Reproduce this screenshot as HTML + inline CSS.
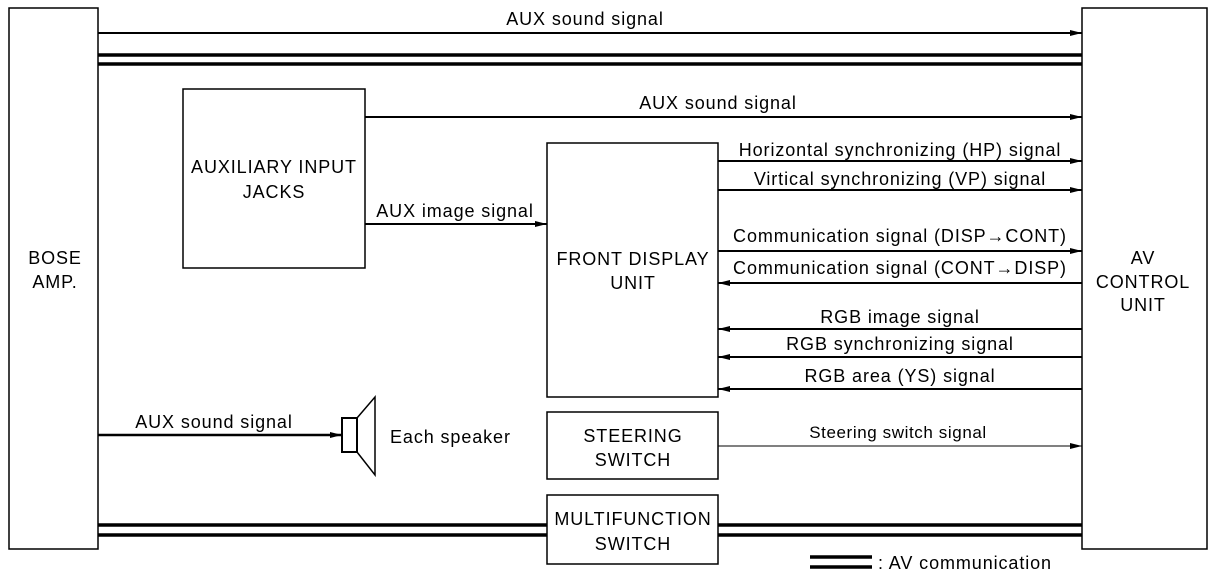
<!DOCTYPE html>
<html><head><meta charset="utf-8"><style>
html,body{margin:0;padding:0;background:#fff;}
svg{display:block}
text{font-family:"Liberation Sans",sans-serif;font-size:18px;letter-spacing:0.9px;fill:#000}
</style></head><body>
<svg width="1216" height="582" viewBox="0 0 1216 582" xmlns="http://www.w3.org/2000/svg">
<defs><marker id="a" markerWidth="12" markerHeight="8" refX="12" refY="4" orient="auto" markerUnits="userSpaceOnUse"><path d="M0,1 L12,4 L0,7 Z" fill="#000"/></marker></defs>
<g fill="none" stroke="#000" stroke-width="1.5">
<rect x="9" y="8" width="89" height="541"/>
<rect x="1082" y="8" width="125" height="541"/>
<rect x="183" y="89" width="182" height="179"/>
<rect x="547" y="143" width="171" height="254"/>
<rect x="547" y="412" width="171" height="67"/>
<rect x="547" y="495" width="171" height="69"/>
</g>
<g stroke="#000" stroke-width="2">
<line x1="98" y1="33" x2="1082" y2="33" marker-end="url(#a)"/>
<line x1="365" y1="117" x2="1082" y2="117" marker-end="url(#a)"/>
<line x1="365" y1="224" x2="547" y2="224" marker-end="url(#a)"/>
<line x1="718" y1="161" x2="1082" y2="161" marker-end="url(#a)"/>
<line x1="718" y1="190" x2="1082" y2="190" marker-end="url(#a)"/>
<line x1="718" y1="251" x2="1082" y2="251" marker-end="url(#a)"/>
<line x1="1082" y1="283" x2="718" y2="283" marker-end="url(#a)"/>
<line x1="1082" y1="329" x2="718" y2="329" marker-end="url(#a)"/>
<line x1="1082" y1="357" x2="718" y2="357" marker-end="url(#a)"/>
<line x1="1082" y1="389" x2="718" y2="389" marker-end="url(#a)"/>
<line x1="98" y1="435" x2="342" y2="435" marker-end="url(#a)" stroke-width="2.5"/>
</g>
<line x1="718" y1="446" x2="1082" y2="446" stroke="#000" stroke-width="1" marker-end="url(#a)"/>
<g stroke="#000" stroke-width="3.5">
<line x1="98" y1="55" x2="1082" y2="55"/>
<line x1="98" y1="64" x2="1082" y2="64"/>
<line x1="98" y1="525" x2="547" y2="525"/>
<line x1="98" y1="535" x2="547" y2="535"/>
<line x1="718" y1="525" x2="1082" y2="525"/>
<line x1="718" y1="535" x2="1082" y2="535"/>
<line x1="810" y1="557" x2="872" y2="557"/>
<line x1="810" y1="567" x2="872" y2="567"/>
</g>
<rect x="342" y="418" width="15" height="34" fill="#fff" stroke="#000" stroke-width="2"/>
<path d="M357,418 L375,397 L375,475 L357,452" fill="none" stroke="#000" stroke-width="1.5"/>
<g text-anchor="middle">
<text x="585" y="25">AUX sound signal</text>
<text x="718" y="109">AUX sound signal</text>
<text x="274" y="173">AUXILIARY INPUT</text>
<text x="274" y="198">JACKS</text>
<text x="455" y="217">AUX image signal</text>
<text x="55" y="264">BOSE</text>
<text x="55" y="288">AMP.</text>
<text x="633" y="265">FRONT DISPLAY</text>
<text x="633" y="289">UNIT</text>
<text x="1143" y="264">AV</text>
<text x="1143" y="288">CONTROL</text>
<text x="1143" y="311">UNIT</text>
<text x="900" y="156">Horizontal synchronizing (HP) signal</text>
<text x="900" y="185">Virtical synchronizing (VP) signal</text>
<text x="900" y="242">Communication signal (DISP→CONT)</text>
<text x="900" y="274">Communication signal (CONT→DISP)</text>
<text x="900" y="323">RGB image signal</text>
<text x="900" y="350">RGB synchronizing signal</text>
<text x="900" y="382">RGB area (YS) signal</text>
<text x="898" y="438" style="font-size:17px;letter-spacing:0.6px">Steering switch signal</text>
<text x="214" y="428">AUX sound signal</text>
<text x="633" y="442">STEERING</text>
<text x="633" y="466">SWITCH</text>
<text x="633" y="525">MULTIFUNCTION</text>
<text x="633" y="550">SWITCH</text>
</g>
<text x="390" y="443">Each speaker</text>
<text x="878" y="569">: AV communication</text>
</svg>
</body></html>
